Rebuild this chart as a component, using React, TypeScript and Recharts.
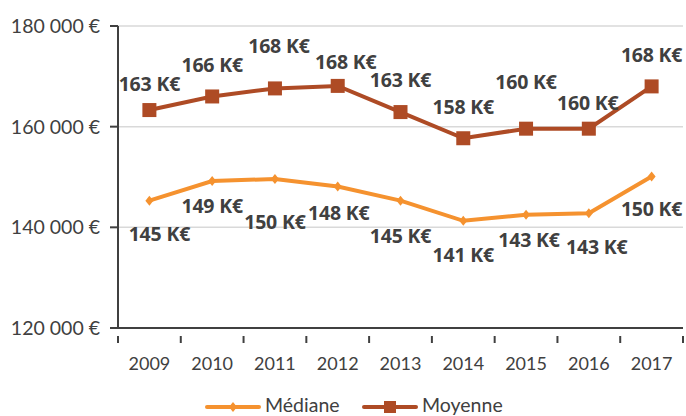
import { LineChart, Line, XAxis, YAxis, CartesianGrid, LabelList } from 'recharts'

const years = ['2009', '2010', '2011', '2012', '2013', '2014', '2015', '2016', '2017']
const mediane = [145300, 149200, 149600, 148100, 145300, 141300, 142500, 142800, 150100]
const moyenne = [163300, 166000, 167600, 168100, 162900, 157700, 159600, 159600, 168000]
const yTicks = [120000, 140000, 160000, 180000]

// label placement (dx, dy from the point), as in the original
const medianeLabelPos = [[10, 33], [0, 25], [0, 43], [1, 26], [0, 35], [0, 34], [3, 25], [8, 34], [0, 33]]
const moyenneLabelPos = [[0, -26], [0, -31], [4, -42], [8, -24], [0, -32], [0, -31], [0, -47], [-1, -26], [0, -31]]

const W = 686
const H = 416
const LEFT = 118
const RIGHT = 3
const BAND = (W - LEFT - RIGHT) / years.length
const TEXT = '#404040'
const ORANGE = '#f5922f'
const BROWN = '#ae4b25'
const FONT = 'Lato, "Open Sans", sans-serif'
const BOLD_FONT = '"Open Sans", Lato, sans-serif'

const data = years.map((y, i) => ({ year: y, mediane: mediane[i], moyenne: moyenne[i] }))

const fmtY = (v: number) => `${Math.round(v / 1000)} 000 €`
const fmtK = (v: number) => `${Math.round(v / 1000)} K€`

const XTick = ({ x, y, payload, index }: any) => (
  <g>
    <line x1={x - BAND / 2} x2={x - BAND / 2} y1={y} y2={y + 7} stroke={TEXT} strokeWidth={2} />
    {index === years.length - 1 && (
      <line x1={x + BAND / 2} x2={x + BAND / 2} y1={y} y2={y + 7} stroke={TEXT} strokeWidth={2} />
    )}
    <text x={x} y={y + 34} textAnchor="middle" fill={TEXT} fontSize={18} fontFamily={FONT}>
      {payload.value}
    </text>
  </g>
)

const DiamondDot = ({ cx, cy }: any) => (
  <polygon points={`${cx},${cy - 5} ${cx + 4},${cy} ${cx},${cy + 5} ${cx - 4},${cy}`} fill={ORANGE} />
)

const SquareDot = ({ cx, cy }: any) => <rect x={cx - 7} y={cy - 7} width={14} height={14} fill={BROWN} />

const makeLabel = (pos: number[][]) => (props: any) => {
  const { x, y, value, index } = props
  const [dx, dy] = pos[index]
  return (
    <text x={x + dx} y={y + dy + 7} textAnchor="middle" fill={TEXT} fontSize={19.5} fontWeight={700} fontFamily={BOLD_FONT} letterSpacing={-0.2}>
      {fmtK(value)}
    </text>
  )
}

export default function App() {
  return (
    <div style={{ position: 'absolute', left: 0, top: 0, width: W, height: H, background: '#fff' }}>
      <LineChart width={W} height={H} data={data} margin={{ top: 26, right: RIGHT, left: 0, bottom: 48 }}>
        <CartesianGrid vertical={false} stroke="#d9d9d9" strokeWidth={1.5} />
        <XAxis
          dataKey="year"
          height={40}
          tickLine={false}
          axisLine={{ stroke: TEXT, strokeWidth: 2 }}
          tick={<XTick />}
          interval={0}
          padding={{ left: BAND / 2, right: BAND / 2 }}
        />
        <YAxis
          width={LEFT}
          domain={[120000, 180000]}
          ticks={yTicks}
          tickFormatter={fmtY}
          axisLine={{ stroke: TEXT, strokeWidth: 2 }}
          tickLine={{ stroke: TEXT, strokeWidth: 2 }}
          tickSize={8}
          tickMargin={10}
          tick={{ fill: TEXT, fontSize: 19.5, fontFamily: FONT }}
        />
        <Line
          type="linear"
          dataKey="mediane"
          stroke={ORANGE}
          strokeWidth={4}
          dot={<DiamondDot />}
          activeDot={false}
          isAnimationActive={false}
        >
          <LabelList dataKey="mediane" content={makeLabel(medianeLabelPos)} />
        </Line>
        <Line
          type="linear"
          dataKey="moyenne"
          stroke={BROWN}
          strokeWidth={4}
          dot={<SquareDot />}
          activeDot={false}
          isAnimationActive={false}
        >
          <LabelList dataKey="moyenne" content={makeLabel(moyenneLabelPos)} />
        </Line>
      </LineChart>
      <div style={{ position: 'absolute', left: 0, top: 394, width: W, height: 22, fontFamily: FONT, fontSize: 19.5, color: TEXT }}>
        <svg width={56} height={12} style={{ position: 'absolute', left: 205, top: 7 }}>
          <line x1={2} x2={54} y1={6} y2={6} stroke={ORANGE} strokeWidth={4} strokeLinecap="round" />
          <polygon points="28,1 32,6 28,11 24,6" fill={ORANGE} />
        </svg>
        <span style={{ position: 'absolute', left: 265, top: 0, lineHeight: '22px' }}>Médiane</span>
        <svg width={56} height={14} style={{ position: 'absolute', left: 362, top: 6 }}>
          <line x1={2} x2={54} y1={7} y2={7} stroke={BROWN} strokeWidth={4} strokeLinecap="round" />
          <rect x={22} y={1} width={12} height={12} fill={BROWN} />
        </svg>
        <span style={{ position: 'absolute', left: 422, top: 0, lineHeight: '22px' }}>Moyenne</span>
      </div>
    </div>
  )
}
